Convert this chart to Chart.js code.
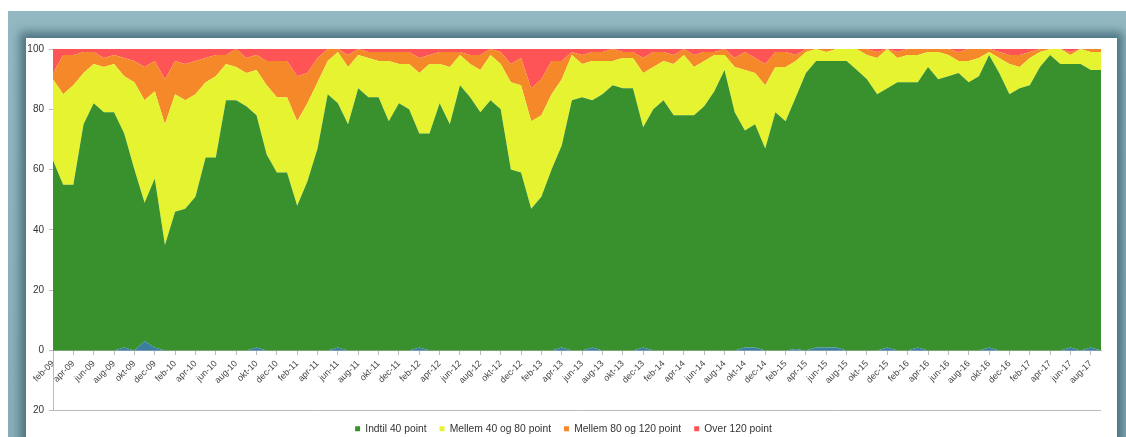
<!DOCTYPE html>
<html>
<head>
<meta charset="utf-8">
<script src="https://cdn.jsdelivr.net/npm/chart.js@4.4.0/dist/chart.umd.min.js"></script>
<style>
  html, body { margin: 0; padding: 0; background: #ffffff; width: 1126px; height: 437px; overflow: hidden; }
  #frame { position: absolute; left: 8px; top: 11px; width: 1130px; height: 440px;
           background: linear-gradient(#93b8c2, #86adb8); }
  #panel { position: absolute; left: 26px; top: 38px; width: 1091px; height: 420px; background: #ffffff;
           box-shadow: 0 0 9px 6px #4d7480; }
  #c { position: absolute; left: 26px; top: 38px; }
</style>
</head>
<body>
<div id="frame"></div>
<div id="panel"></div>
<canvas id="c" width="1091" height="406"></canvas>
<script>
const categories = [
  "feb-09","mar-09","apr-09","maj-09","jun-09","jul-09","aug-09","sep-09","okt-09","nov-09","dec-09",
  "jan-10","feb-10","mar-10","apr-10","maj-10","jun-10","jul-10","aug-10","sep-10","okt-10","nov-10","dec-10",
  "jan-11","feb-11","mar-11","apr-11","maj-11","jun-11","jul-11","aug-11","sep-11","okt-11","nov-11","dec-11",
  "jan-12","feb-12","mar-12","apr-12","maj-12","jun-12","jul-12","aug-12","sep-12","okt-12","nov-12","dec-12",
  "jan-13","feb-13","mar-13","apr-13","maj-13","jun-13","jul-13","aug-13","sep-13","okt-13","nov-13","dec-13",
  "jan-14","feb-14","mar-14","apr-14","maj-14","jun-14","jul-14","aug-14","sep-14","okt-14","nov-14","dec-14",
  "jan-15","feb-15","mar-15","apr-15","maj-15","jun-15","jul-15","aug-15","sep-15","okt-15","nov-15","dec-15",
  "jan-16","feb-16","mar-16","apr-16","maj-16","jun-16","jul-16","aug-16","sep-16","okt-16","nov-16","dec-16",
  "jan-17","feb-17","mar-17","apr-17","maj-17","jun-17","jul-17","aug-17","sep-17"
];

const seriesNames = ["Indtil 40 point", "Mellem 40 og 80 point", "Mellem 80 og 120 point", "Over 120 point"];

// small unnamed series at the bottom (not in legend)
const otherValues = [
  0,0,0,0,0,0,0,1,0,3,1,0,0,0,0,0,0,0,0,0,1,0,0,0,0,0,0,0,1,0,
  0,0,0,0,0,0,1,0,0,0,0,0,0,0,0,0,0,0,0,0,1,0,0,1,0,0,0,0,1,0,
  0,0,0,0,0,0,0,0,1,1,0,0,0,0.5,0,1,1,1,0,0,0,0,1,0,0,1,0,0,0,0,
  0,0,1,0,0,0,0,0,0,0,1,0,1,0
];

const indtil40 = [
  63,55,55,75,82,79,79,71,60,46,56,35,46,47,51,64,64,83,83,81,77,65,59,59,48,56,67,85,81,75,
  87,84,84,76,82,80,71,72,82,75,88,84,79,83,80,60,59,47,51,60,67,83,84,82,85,88,87,87,73,80,
  83,78,78,78,81,86,93,79,72,74,67,79,76,83.5,92,95,95,95,96,93,90,85,86,89,89,88,94,90,91,92,
  89,91,97,92,85,87,88,94,98,95,94,95,92,93
];

const mellem40_80 = [
  27,30,33,17,13,15,16,19,29,34,29,40,39,36,34,25,27,12,11,11,15,23,25,25,28,26,22,11,17,19,
  11,13,12,20,13,15,20,23,13,19,10,11,14,15,15,29,29,29,27,25,22,15,11,13,11,8,10,10,18,14,
  13,17,20,16,15,12,5,15,20,17,21,15,18,12,7,4,3,4,4,7,8,12,13,8,9,9,5,9,7,4,
  7,6,1,5,10,7,9,5,2,5,3,5,6,6
];

const mellem80_120 = [
  2,13,10,7,4,3,3,6,7,11,10,15,11,12,11,8,7,3,6,5,5,8,12,12,15,10,8,4,1,4,
  2,2,3,3,4,4,5,3,4,5,1,3,5,2,4,6,9,11,12,11,6,1,3,3,3,4,2,2,5,5,
  3,3,2,4,3,1,2,3,6,5,7,5,5,2,1,0,1,0,0,0,2,2,0,2,2,2,1,1,2,3,
  4,3,1,2,3,4,2,1,0,0,1,0,1,1
];

const over120 = [
  8,2,2,1,1,3,2,3,4,6,4,10,4,5,4,3,2,2,0,3,2,4,4,4,9,8,3,0,0,2,
  0,1,1,1,1,1,3,2,1,1,1,2,2,0,1,5,3,13,10,4,4,1,2,1,1,0,1,1,3,1,
  1,2,0,2,1,1,0,3,1,3,5,1,1,2,0,0,0,0,0,0,0,1,0,1,0,0,0,0,0,1,
  0,0,0,1,2,2,1,0,0,0,1,0,0,0
];

const yTickMin = -20, yTickMax = 100, yTickStep = 20;

const colors = {
  other: "#3a7fa2",
  green: "#38912d",
  yellow: "#e6f331",
  orange: "#f5892a",
  red: "#fe5456"
};

const FONT = "'Liberation Sans', Arial, sans-serif";

function areaDs(label, data, color, fill) {
  return {
    label, data,
    backgroundColor: color, borderColor: color,
    borderWidth: 0, pointRadius: 0, pointHoverRadius: 0,
    fill, tension: 0
  };
}

new Chart(document.getElementById("c"), {
  type: "line",
  data: {
    labels: categories,
    datasets: [
      areaDs("", otherValues, colors.other, "origin"),
      areaDs(seriesNames[0], indtil40, colors.green, "-1"),
      areaDs(seriesNames[1], mellem40_80, colors.yellow, "-1"),
      areaDs(seriesNames[2], mellem80_120, colors.orange, "-1"),
      areaDs(seriesNames[3], over120, colors.red, "-1")
    ]
  },
  options: {
    responsive: false,
    animation: false,
    devicePixelRatio: 1,
    layout: { padding: { left: 0, right: 16, top: 10, bottom: 0 } },
    scales: {
      x: {
        position: { y: 0 },
        grid: { drawOnChartArea: false, color: "#bbbbbb", tickLength: 4 },
        border: { color: "#bbbbbb" },
        ticks: {
          autoSkip: false, minRotation: 45, maxRotation: 45, padding: 4,
          color: "#444", font: { family: FONT, size: 9 },
          callback: (v, i) => (i % 2 === 0 ? categories[i] : null)
        }
      },
      y: {
        stacked: true,
        min: yTickMin, max: yTickMax,
        afterFit: (s) => { s.width = 27; },
        grid: {
          color: (ctx) => (ctx.tick && ctx.tick.value === yTickMin ? "#bbbbbb" : "rgba(0,0,0,0)"),
          tickColor: "#bbbbbb", tickLength: 4
        },
        border: { color: "#bbbbbb" },
        ticks: {
          stepSize: yTickStep, padding: 5,
          color: "#333", font: { family: FONT, size: 10 },
          callback: (v) => Math.abs(v)
        }
      }
    },
    plugins: {
      tooltip: { enabled: false },
      legend: {
        position: "bottom",
        labels: {
          boxWidth: 5, boxHeight: 5, padding: 13,
          color: "#333", font: { family: FONT, size: 10.3 },
          filter: (item) => item.datasetIndex > 0
        }
      }
    }
  }
});
</script>
</body>
</html>
